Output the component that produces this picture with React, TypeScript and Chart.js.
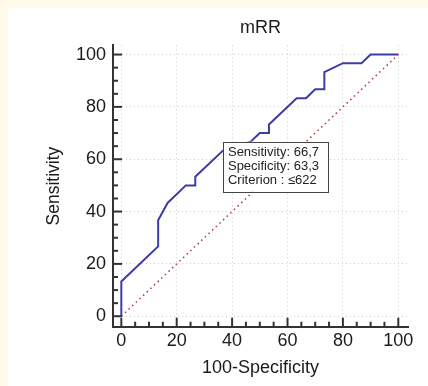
import React, { useEffect, useRef } from "react";
import { Chart, registerables } from "chart.js";

Chart.register(...registerables);

// ROC curve points: 100-Specificity (x) and Sensitivity (y)
const fpr = [0, 0, 13.3, 13.3, 16.7, 23.3, 26.7, 26.7, 36.7, 46.7, 50, 53.3, 53.3, 63.3, 66.7, 70, 73.3, 73.3, 80, 86.7, 90, 100];
const sens = [0, 13.3, 26.7, 36.7, 43.3, 50, 50, 53.3, 63.3, 66.7, 70, 70, 73.3, 83.3, 83.3, 86.7, 86.7, 93.3, 96.7, 96.7, 100, 100];
const diagX = [0, 100];
const diagY = [0, 100];
const tickValues = [0, 20, 40, 60, 80, 100];
const criterionSens = 66.7;
const criterionSpec = 63.3;
const criterionLabel = "≤622";
const titleText = "mRR";
const xTitle = "100-Specificity";
const yTitle = "Sensitivity";

const FONT = "'Liberation Sans', Arial, sans-serif";
const fmt = (v: number) => v.toFixed(1).replace(".", ",");

export default function App() {
  const ref = useRef<HTMLCanvasElement | null>(null);
  useEffect(() => {
    if (!ref.current) return;
    const overlay = {
      id: "overlay",
      afterDatasetsDraw(chart: any) {
        const { ctx, scales } = chart;
        const x = scales.x.getPixelForValue(100 - criterionSpec);
        const y = scales.y.getPixelForValue(criterionSens);
        const w = 105, h = 50;
        ctx.save();
        ctx.fillStyle = "#ffffff";
        ctx.fillRect(x, y, w, h);
        ctx.strokeStyle = "#444";
        ctx.lineWidth = 1;
        ctx.strokeRect(Math.round(x) + 0.5, Math.round(y) + 0.5, w, h);
        ctx.fillStyle = "#222";
        ctx.font = `13px ${FONT}`;
        ctx.textBaseline = "middle";
        const lines = [
          `Sensitivity: ${fmt(criterionSens)}`,
          `Specificity: ${fmt(criterionSpec)}`,
          `Criterion : ${criterionLabel}`,
        ];
        lines.forEach((t, i) => ctx.fillText(t, x + 5, y + 11 + i * 14));
        ctx.restore();
      },
      afterDraw(chart: any) {
        const { ctx, scales, chartArea } = chart;
        ctx.save();
        ctx.strokeStyle = "#333";
        ctx.lineWidth = 2;
        for (let v = 0; v <= 100; v += 5) {
          const major = v % 20 === 0;
          const py = scales.y.getPixelForValue(v);
          ctx.beginPath();
          ctx.moveTo(chartArea.left, py);
          ctx.lineTo(chartArea.left + (major ? 9 : 5), py);
          ctx.stroke();
          const px = scales.x.getPixelForValue(v);
          ctx.beginPath();
          ctx.moveTo(px, chartArea.bottom);
          ctx.lineTo(px, chartArea.bottom - (major ? 9 : 5));
          ctx.stroke();
        }
        ctx.restore();
      },
    };
    const gridColor = (c: any) =>
      c.tick && tickValues.includes(c.tick.value) ? "#cdcdcd" : "rgba(0,0,0,0)";
    const chart = new Chart(ref.current, {
      type: "scatter",
      data: {
        datasets: [
          {
            data: diagX.map((x, i) => ({ x, y: diagY[i] })),
            showLine: true,
            borderColor: "#b03838",
            borderWidth: 1.5,
            borderDash: [1.5, 3.5],
            pointRadius: 0,
          },
          {
            data: fpr.map((x, i) => ({ x, y: sens[i] })),
            showLine: true,
            borderColor: "#3c3ca8",
            borderWidth: 2,
            pointRadius: 0,
          },
        ],
      },
      options: {
        animation: false,
        responsive: false,
        layout: { padding: { left: 0, right: 20, top: 0, bottom: 0 } },
        plugins: {
          legend: { display: false },
          tooltip: { enabled: false },
          title: {
            display: true,
            text: titleText,
            fullSize: false,
            color: "#1a1a1a",
            font: { family: FONT, size: 18, weight: "normal" },
            padding: { top: 9.5, bottom: 6.3 },
          },
        },
        scales: {
          x: {
            type: "linear",
            min: -3,
            max: 103.5,
            afterFit: (s: any) => { s.height = 59.3; },
            ticks: {
              stepSize: 5,
              includeBounds: false,
              autoSkip: false,
              maxRotation: 0,
              padding: 4,
              color: "#1a1a1a",
              font: { family: FONT, size: 18 },
              callback: (v: any) => (tickValues.includes(Number(v)) ? String(v) : ""),
            },
            grid: { color: gridColor, lineWidth: 1, drawTicks: false },
            border: { display: true, color: "#333", width: 2, dash: [1, 3] },
            title: {
              display: true,
              text: xTitle,
              color: "#1a1a1a",
              font: { family: FONT, size: 18 },
              padding: { top: 0, bottom: 6.7 },
            },
          },
          y: {
            type: "linear",
            min: -4,
            max: 103.5,
            afterFit: (s: any) => { s.width = 105; },
            ticks: {
              stepSize: 5,
              includeBounds: false,
              autoSkip: false,
              padding: 7,
              color: "#1a1a1a",
              font: { family: FONT, size: 18 },
              callback: (v: any) => (tickValues.includes(Number(v)) ? String(v) : ""),
            },
            grid: { color: gridColor, lineWidth: 1, drawTicks: false },
            border: { display: true, color: "#333", width: 2, dash: [1, 3] },
            title: {
              display: true,
              text: yTitle,
              color: "#1a1a1a",
              font: { family: FONT, size: 17.5 },
              padding: { top: 36, bottom: 0 },
            },
          },
        },
      },
      plugins: [overlay],
    } as any);
    return () => chart.destroy();
  }, []);
  return (
    <div style={{ position: "fixed", inset: 0, background: "#fffbe8" }}>
      <div style={{ position: "absolute", left: 8, top: 8, width: 420, height: 378, background: "#ffffff" }}>
        <canvas ref={ref} width={420} height={378} style={{ display: "block" }} />
      </div>
    </div>
  );
}
